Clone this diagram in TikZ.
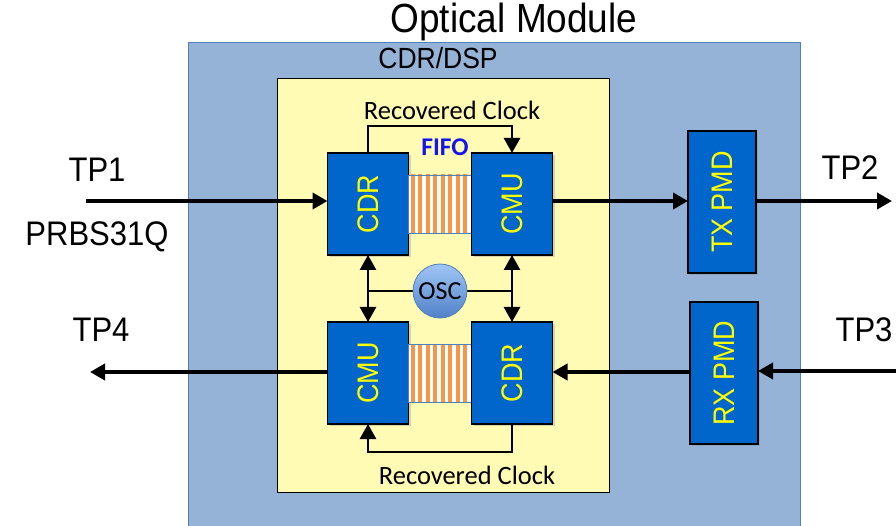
\documentclass[tikz,border=0pt]{standalone}
\usepackage{fontspec}
\setmainfont{Liberation Sans}
\newfontfamily\calibri{Carlito}
\usetikzlibrary{arrows.meta,positioning,shadows}
\definecolor{modblue}{RGB}{149,179,215}
\definecolor{modedge}{RGB}{79,129,189}
\definecolor{dspyellow}{RGB}{255,251,180}
\definecolor{blockblue}{RGB}{0,102,204}
\definecolor{stripe}{RGB}{247,150,70}
\definecolor{txtyellow}{RGB}{255,255,0}
\definecolor{fifoblue}{RGB}{20,20,235}
\definecolor{osctop}{RGB}{160,198,245}
\definecolor{oscbot}{RGB}{80,130,200}
\newcommand{\tall}[1]{\scalebox{1}[1.1]{#1}}
\tikzset{
  module/.style = {draw=modedge, line width=1.2pt, fill=modblue, inner sep=0pt},
  dsp/.style    = {draw=black, line width=1.2pt, fill=dspyellow, inner sep=0pt},
  block/.style  = {draw=black, line width=1.2pt, fill=blockblue, text=txtyellow,
                   minimum width=81pt, minimum height=102pt, inner sep=0pt,
                   outer sep=0pt, font=\fontsize{27}{29}\selectfont,
                   drop shadow={opacity=0.3, shadow xshift=2pt, shadow yshift=-2pt}},
  pmd/.style    = {block, minimum width=68pt, minimum height=142pt},
  fifo/.style   = {draw=modedge, line width=0.8pt, fill=white, minimum width=63pt,
                   minimum height=58pt, inner sep=0pt, outer sep=0pt,
                   path picture={\foreach \k in {0,...,8}
                     \fill[stripe] ([xshift=\k*7.5pt+2pt]path picture bounding box.south west)
                       rectangle ++(4.4pt,60pt);}},
  osc/.style    = {circle, draw=modedge, line width=0.8pt, top color=osctop,
                   bottom color=oscbot, minimum size=54pt, inner sep=0pt,
                   font=\calibri\fontsize{26}{28}\selectfont},
  tp/.style     = {font=\fontsize{31}{34}\selectfont},
  clklabel/.style = {font=\calibri\fontsize{26.5}{29}\selectfont},
  sig/.style    = {line width=4pt, ->},
  clk/.style    = {line width=2.6pt}
}

\begin{document}
\begin{tikzpicture}[x=1pt, y=-1pt, >={Triangle[length=15pt,width=16pt]}]
\useasboundingbox[fill=white] (0,0) rectangle (896,526);

% the module and the CDR/DSP chip
\node[module, minimum width=612pt, minimum height=492pt, anchor=north west] (mod) at (188,42) {};
\node[font=\fontsize{37}{40}\selectfont] (title) at (514,22) {\tall{Optical Module}};
\node[dsp, minimum width=332pt, minimum height=414pt, anchor=north west] (dsp) at (277,78) {};
\node[font=\fontsize{26.5}{29}\selectfont] (dsplabel) at (438,58) {\tall{CDR/DSP}};

% upper lane
\node[block] (cdr1) at (368,204) {\rotatebox{90}{\tall{CDR}}};
\node[fifo, right=0pt of cdr1] (fifo1) {};
\node[block, right=0pt of fifo1] (cmu1) {\rotatebox{90}{\tall{CMU}}};

% lower lane
\node[block] (cmu2) at (368,373) {\rotatebox{90}{\tall{CMU}}};
\node[fifo, right=0pt of cmu2] (fifo2) {};
\node[block, right=0pt of fifo2] (cdr2) {\rotatebox{90}{\tall{CDR}}};

% PMDs
\node[pmd] (tx) at (722,202) {\rotatebox{90}{\tall{TX PMD}}};
\node[pmd] (rx) at (724,373) {\rotatebox{90}{\tall{RX PMD}}};

% test points
\node[tp] (tp1l) at (97,170) {\tall{TP1}};
\node[tp] (prbs) at (97,237) {\tall{PRBS31Q}};
\node[tp] (tp2l) at (850,168) {\tall{TP2}};
\node[tp] (tp3l) at (864,330) {\tall{TP3}};
\node[tp] (tp4l) at (101,330) {\tall{TP4}};

\coordinate (tp1) at (86,201);
\coordinate (tp2) at (892,201);
\coordinate (tp3) at (900,371);
\coordinate (tp4) at (90,372);

% data path
\draw[sig] (tp1) -- (tp1 -| cdr1.west);
\draw[sig] (cmu1.east |- tp1) -- (tp1 -| tx.west);
\draw[sig] (tp1 -| tx.east) -- (tp2);
\draw[sig] (tp3) -- (tp3 -| rx.east);
\draw[sig] (rx.west |- tp4) -- (tp4 -| cdr2.east);
\draw[sig] (cmu2.west |- tp4) -- (tp4);

% clocks
\node[clklabel] (rc1) at (452,110) {Recovered Clock};
\node[clklabel] (rc2) at (467,475) {Recovered Clock};
\node[font=\calibri\bfseries\fontsize{25.5}{28}\selectfont, text=fifoblue] (fifot) at (445,147) {FIFO};
\draw[clk,->] (cdr1.north) -- ++(0,-27) -| (cmu1.north);
\draw[clk,->] (cdr2.south) -- ++(0,28) -| (cmu2.south);
\coordinate (oscc) at (440,291);
\draw[clk] (cdr1.south |- oscc) -- (cmu1.south |- oscc);
\draw[clk,<->] (cdr1.south) -- (cmu2.north);
\draw[clk,<->] (cmu1.south) -- (cdr2.north);
\node[osc] (osc) at (oscc) {OSC};
\end{tikzpicture}
\end{document}
